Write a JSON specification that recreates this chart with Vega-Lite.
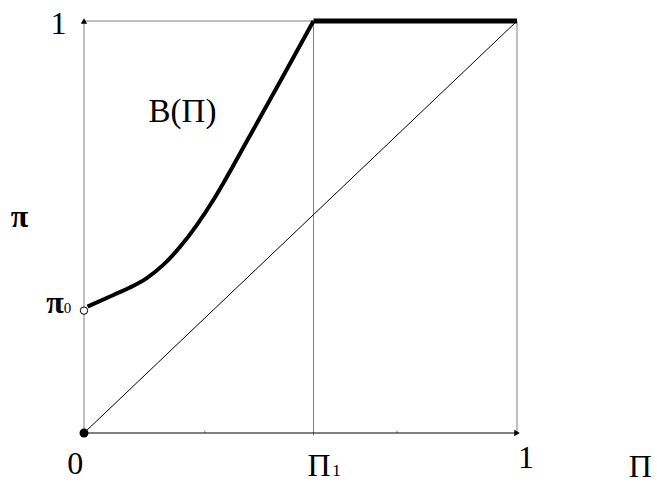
{
  "$schema": "https://vega.github.io/schema/vega-lite/v6.json",
  "width": 433,
  "height": 412,
  "autosize": "none",
  "padding": {"left": 84, "top": 21, "right": 140, "bottom": 50},
  "background": "white",
  "config": {"view": {"stroke": null}, "font": "Liberation Serif"},
  "datasets": {
    "frame": [
      {"x": 0, "y": 0, "x2": 0, "y2": 1},
      {"x": 0, "y": 1, "x2": 1, "y2": 1},
      {"x": 1, "y": 0, "x2": 1, "y2": 1},
      {"x": 0.53, "y": -0.006, "x2": 0.53, "y2": 1},
      {"x": 0.279, "y": 0, "x2": 0.279, "y2": 0.006},
      {"x": 0.723, "y": 0, "x2": 0.723, "y2": 0.006}
    ],
    "blackrules": [
      {"x": 0, "y": 0, "x2": 1, "y2": 0},
      {"x": 0, "y": 0, "x2": 1, "y2": 1}
    ],
    "curve": [
      {"x": 0.008, "y": 0.307},
      {"x": 0.068, "y": 0.335},
      {"x": 0.106, "y": 0.353},
      {"x": 0.145, "y": 0.376},
      {"x": 0.183, "y": 0.408},
      {"x": 0.222, "y": 0.452},
      {"x": 0.260, "y": 0.504},
      {"x": 0.299, "y": 0.566},
      {"x": 0.322, "y": 0.607},
      {"x": 0.376, "y": 0.708},
      {"x": 0.453, "y": 0.853},
      {"x": 0.53, "y": 1.0}
    ],
    "flat": [
      {"x": 0.53, "y": 1.0},
      {"x": 1.0, "y": 1.0}
    ],
    "filled": [{"x": 0, "y": 0}],
    "open": [{"x": 0, "y": 0.297}],
    "arrowUp": [{"x": 0, "y": 1}],
    "arrowRight": [{"x": 1, "y": 0}],
    "bigLabels": [
      {"x": -0.059, "y": 0.968, "label": "1"},
      {"x": -0.02, "y": -0.1, "label": "0"},
      {"x": 0.543, "y": -0.104, "label": "Π"},
      {"x": 1.021, "y": -0.085, "label": "1"},
      {"x": 1.285, "y": -0.108, "label": "Π"}
    ],
    "greek": [
      {"x": -0.149, "y": 0.5, "label": "π"},
      {"x": -0.067, "y": 0.291, "label": "π"}
    ],
    "curveLabel": [{"x": 0.2275, "y": 0.755, "label": "B(Π)"}],
    "sub0": [{"x": -0.038, "y": 0.291, "label": "0"}],
    "sub1": [{"x": 0.583, "y": -0.104, "label": "1"}]
  },
  "encoding": {
    "x": {"field": "x", "type": "quantitative", "scale": {"domain": [0, 1], "nice": false, "zero": false}, "axis": null},
    "y": {"field": "y", "type": "quantitative", "scale": {"domain": [0, 1], "nice": false, "zero": false}, "axis": null}
  },
  "layer": [
    {"data": {"name": "frame"}, "mark": {"type": "rule", "color": "#808080", "strokeWidth": 1},
     "encoding": {"x2": {"field": "x2"}, "y2": {"field": "y2"}}},
    {"data": {"name": "blackrules"}, "mark": {"type": "rule", "color": "black", "strokeWidth": 1},
     "encoding": {"x2": {"field": "x2"}, "y2": {"field": "y2"}}},
    {"data": {"name": "curve"}, "mark": {"type": "line", "color": "black", "strokeWidth": 4, "interpolate": "monotone"}, "encoding": {}},
    {"data": {"name": "flat"}, "mark": {"type": "line", "color": "black", "strokeWidth": 5, "strokeCap": "butt"}, "encoding": {}},
    {"data": {"name": "filled"}, "mark": {"type": "point", "shape": "circle", "filled": true, "color": "black", "size": 80, "opacity": 1}},
    {"data": {"name": "open"}, "mark": {"type": "point", "shape": "circle", "filled": true, "fill": "white", "stroke": "black", "strokeWidth": 1, "size": 55, "opacity": 1}},
    {"data": {"name": "arrowUp"}, "mark": {"type": "point", "shape": "triangle-up", "filled": true, "color": "black", "size": 40, "opacity": 1}},
    {"data": {"name": "arrowRight"}, "mark": {"type": "point", "shape": "triangle-right", "filled": true, "color": "black", "size": 40, "opacity": 1}},
    {"data": {"name": "bigLabels"}, "mark": {"type": "text", "font": "Liberation Serif", "fontSize": 32, "align": "center", "baseline": "alphabetic", "color": "black"},
     "encoding": {"text": {"field": "label"}}},
    {"data": {"name": "greek"}, "mark": {"type": "text", "font": "Liberation Serif", "fontSize": 32, "fontWeight": "bold", "align": "center", "baseline": "alphabetic", "color": "black"},
     "encoding": {"text": {"field": "label"}}},
    {"data": {"name": "curveLabel"}, "mark": {"type": "text", "font": "Liberation Serif", "fontSize": 33, "align": "center", "baseline": "alphabetic", "color": "black"},
     "encoding": {"text": {"field": "label"}}},
    {"data": {"name": "sub0"}, "mark": {"type": "text", "font": "Liberation Serif", "fontSize": 15, "align": "center", "baseline": "alphabetic", "color": "black"},
     "encoding": {"text": {"field": "label"}}},
    {"data": {"name": "sub1"}, "mark": {"type": "text", "font": "Liberation Serif", "fontSize": 17, "align": "center", "baseline": "alphabetic", "color": "black"},
     "encoding": {"text": {"field": "label"}}}
  ]
}
